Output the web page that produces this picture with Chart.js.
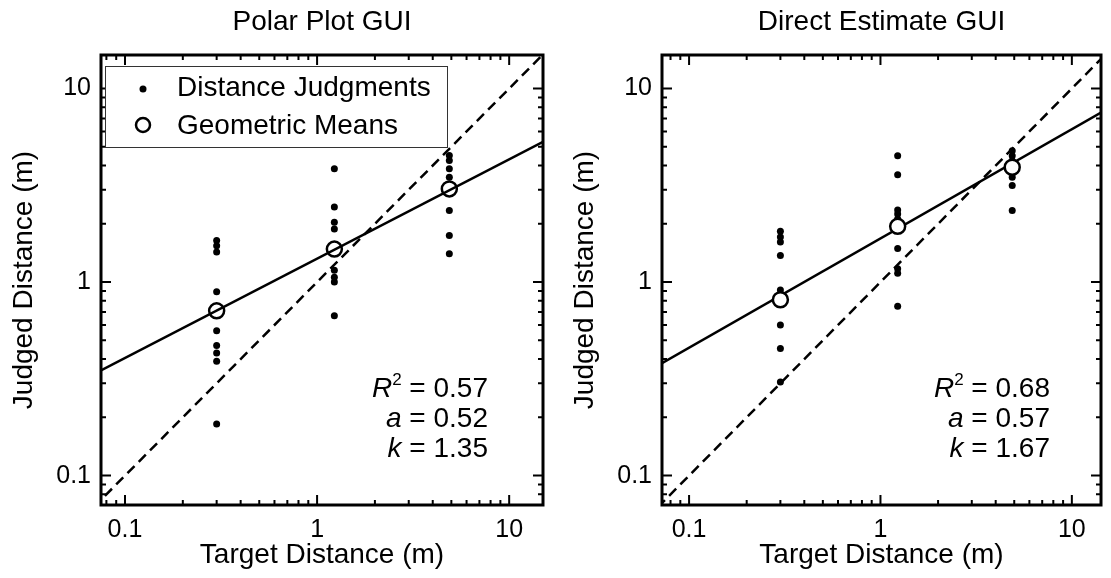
<!DOCTYPE html>
<html>
<head>
<meta charset="utf-8">
<title>Judged vs Target Distance</title>
<script src="https://cdn.jsdelivr.net/npm/chart.js@4.4.0/dist/chart.umd.min.js"></script>
<style>
  html, body { margin: 0; padding: 0; background: #fff; }
  #wrap { position: relative; width: 1111px; height: 578px; }
  #polarChart { position: absolute; left: 0; top: 0; }
  #directChart { position: absolute; left: 555px; top: 0; }
</style>
</head>
<body>
<div id="wrap">
  <canvas id="polarChart" width="555" height="578"></canvas>
  <canvas id="directChart" width="556" height="578"></canvas>
</div>
<script>
// target distances (m), same three for both GUIs
const targetDistances = [0.3, 1.23, 4.88];

// Polar Plot GUI: judged distances per target
const polarNear = [1.64, 1.54, 1.43, 0.89, 0.56, 0.47, 0.43, 0.39, 0.185];
const polarMid = [3.85, 2.44, 2.04, 1.88, 1.15, 1.06, 1.0, 0.67];
const polarFar = [4.51, 4.25, 3.85, 3.48, 2.34, 1.74, 1.40];
const polarMeans = [0.71, 1.48, 3.03];
const polarFitX = [0.075, 15];
const polarFitY = [0.35, 5.3];
const polarStats = ['0.57', '0.52', '1.35'];

// Direct Estimate GUI
const directNear = [1.83, 1.71, 1.61, 1.37, 0.91, 0.60, 0.454, 0.305];
const directMid = [4.50, 3.58, 2.36, 2.25, 2.12, 1.49, 1.17, 1.11, 0.75];
const directFar = [4.77, 4.50, 4.24, 3.48, 3.15, 2.34];
const directMeans = [0.81, 1.94, 3.92];
const directFitX = [0.0722, 14.2];
const directFitY = [0.381, 7.52];
const directStats = ['0.68', '0.57', '1.67'];

// y = x reference line
const identityLine = [0.06, 17];

const majorTicks = [0.1, 1, 10];
const minorTicks = [0.08, 0.09, 0.2, 0.3, 0.4, 0.5, 0.6, 0.7, 0.8, 0.9, 2, 3, 4, 5, 6, 7, 8, 9];

const FONT = '"Liberation Sans", Arial, sans-serif';
Chart.defaults.font.family = FONT;
Chart.defaults.color = '#000';

function judgmentPoints(groups) {
    const pts = [];
    groups.forEach((vals, i) => {
        vals.forEach(v => pts.push({ x: targetDistances[i], y: v }));
    });
    return pts;
}

function pairs(xs, ys) {
    return xs.map((x, i) => ({ x: x, y: ys[i] }));
}

function drawStat(ctx, xr, yb, sym, sup, val) {
    ctx.textAlign = 'right';
    ctx.textBaseline = 'alphabetic';
    ctx.font = '28px ' + FONT;
    const rest = ' = ' + val;
    ctx.fillText(rest, xr, yb);
    let xc = xr - ctx.measureText(rest).width;
    if (sup) {
        ctx.font = '17px ' + FONT;
        ctx.fillText(sup, xc, yb - 12);
        xc -= ctx.measureText(sup).width;
    }
    ctx.font = 'italic 28px ' + FONT;
    ctx.fillText(sym, xc, yb);
}

// frame with inward ticks on all four sides, legend and fit stats
const framePlugin = {
    id: 'frame',
    afterDraw(chart, args, opts) {
        const ctx = chart.ctx;
        const a = chart.chartArea;
        const xs = chart.scales.x;
        const ys = chart.scales.y;
        ctx.save();
        ctx.strokeStyle = '#000';
        ctx.lineWidth = 2;
        const drawTicks = (vals, len) => {
            ctx.beginPath();
            vals.forEach(v => {
                const px = xs.getPixelForValue(v);
                if (px > a.left + 1 && px < a.right - 1) {
                    ctx.moveTo(px, a.bottom); ctx.lineTo(px, a.bottom - len);
                    ctx.moveTo(px, a.top); ctx.lineTo(px, a.top + len);
                }
                const py = ys.getPixelForValue(v);
                if (py > a.top + 1 && py < a.bottom - 1) {
                    ctx.moveTo(a.left, py); ctx.lineTo(a.left + len, py);
                    ctx.moveTo(a.right, py); ctx.lineTo(a.right - len, py);
                }
            });
            ctx.stroke();
        };
        drawTicks(majorTicks, 10);
        drawTicks(minorTicks, 5);

        if (opts.legend) {
            const lx = a.left + 4, ly = a.top + 11;
            ctx.fillStyle = '#fff';
            ctx.fillRect(lx, ly, 342, 81);
            ctx.lineWidth = 1;
            ctx.strokeStyle = '#333';
            ctx.strokeRect(lx + 0.5, ly + 0.5, 342, 81);
            ctx.fillStyle = '#000';
            ctx.beginPath();
            ctx.arc(lx + 38, ly + 23, 3.5, 0, Math.PI * 2);
            ctx.fill();
            ctx.lineWidth = 2.5;
            ctx.strokeStyle = '#000';
            ctx.beginPath();
            ctx.arc(lx + 38, ly + 59, 7, 0, Math.PI * 2);
            ctx.stroke();
            ctx.font = '28px ' + FONT;
            ctx.textAlign = 'left';
            ctx.textBaseline = 'middle';
            ctx.fillText('Distance Judgments', lx + 72, ly + 22);
            ctx.fillText('Geometric Means', lx + 72, ly + 60);
        }

        ctx.fillStyle = '#000';
        const xr = a.right - opts.statsInset;
        drawStat(ctx, xr, a.bottom - 108, 'R', '2', opts.stats[0]);
        drawStat(ctx, xr, a.bottom - 78, 'a', '', opts.stats[1]);
        drawStat(ctx, xr, a.bottom - 48, 'k', '', opts.stats[2]);

        ctx.lineWidth = 3;
        ctx.strokeStyle = '#000';
        ctx.strokeRect(a.left, a.top, a.right - a.left, a.bottom - a.top);
        ctx.restore();
    }
};

function makeChart(canvasId, cfg) {
    const ctx = document.getElementById(canvasId).getContext('2d');
    const logAxis = (min, max, titleText, titlePad, afterFit) => ({
        type: 'logarithmic',
        min: min,
        max: max,
        grid: { display: false, drawTicks: false },
        border: { display: false },
        afterBuildTicks: scale => {
            scale.ticks = majorTicks.map(v => ({ value: v }));
        },
        afterFit: afterFit,
        ticks: {
            font: { size: 25 },
            padding: 10,
            autoSkip: false,
            maxRotation: 0,
            callback: v => String(v)
        },
        title: {
            display: true,
            text: titleText,
            font: { size: 28 },
            padding: titlePad
        }
    });

    return new Chart(ctx, {
        type: 'scatter',
        data: {
            datasets: [
                {
                    label: 'Geometric Means',
                    data: pairs(targetDistances, cfg.means),
                    pointRadius: cfg.circleRadius,
                    pointBorderWidth: 2.5,
                    pointBorderColor: '#000',
                    pointBackgroundColor: cfg.circleFill
                },
                {
                    label: 'Fit',
                    data: pairs(cfg.fitX, cfg.fitY),
                    showLine: true,
                    pointRadius: 0,
                    borderColor: '#000',
                    borderWidth: 2.5,
                    clip: 0
                },
                {
                    label: 'Identity',
                    data: pairs(identityLine, identityLine),
                    showLine: true,
                    pointRadius: 0,
                    borderColor: '#000',
                    borderWidth: 2.5,
                    borderDash: [10, 6],
                    clip: 0
                },
                {
                    label: 'Distance Judgments',
                    data: judgmentPoints(cfg.groups),
                    pointRadius: 3.5,
                    pointBorderWidth: 0,
                    pointBackgroundColor: '#000'
                }
            ]
        },
        options: {
            responsive: false,
            animation: false,
            devicePixelRatio: 1,
            layout: { padding: { left: 0, right: cfg.padRight, top: 0, bottom: 0 } },
            scales: {
                x: logAxis(cfg.xMin, cfg.xMax, 'Target Distance (m)', { top: 0, bottom: 6 },
                    scale => { scale.height = 73; }),
                y: logAxis(cfg.yMin, cfg.yMax, 'Judged Distance (m)', { top: cfg.yTitlePad, bottom: 0 },
                    scale => { scale.width = cfg.yWidth; })
            },
            plugins: {
                legend: { display: false },
                tooltip: { enabled: false },
                title: {
                    display: true,
                    text: cfg.title,
                    fullSize: false,
                    font: { size: 28, weight: 'normal' },
                    padding: { top: 5, bottom: 16.4 }
                },
                frame: { legend: cfg.legend, stats: cfg.stats, statsInset: cfg.statsInset }
            }
        },
        plugins: [framePlugin]
    });
}

makeChart('polarChart', {
    title: 'Polar Plot GUI',
    groups: [polarNear, polarMid, polarFar],
    means: polarMeans,
    fitX: polarFitX,
    fitY: polarFitY,
    stats: polarStats,
    legend: true,
    circleRadius: 7.5,
    circleFill: 'rgba(0,0,0,0)',
    xMin: 0.075, xMax: 15,
    yMin: 0.0705, yMax: 14.9,
    yWidth: 101,
    yTitlePad: 7,
    padRight: 12,
    statsInset: 55
});

makeChart('directChart', {
    title: 'Direct Estimate GUI',
    groups: [directNear, directMid, directFar],
    means: directMeans,
    fitX: directFitX,
    fitY: directFitY,
    stats: directStats,
    legend: false,
    circleRadius: 7.5,
    circleFill: '#fff',
    xMin: 0.0722, xMax: 14.2,
    yMin: 0.0705, yMax: 14.9,
    yWidth: 107,
    yTitlePad: 13,
    padRight: 5,
    statsInset: 51
});
</script>
</body>
</html>
